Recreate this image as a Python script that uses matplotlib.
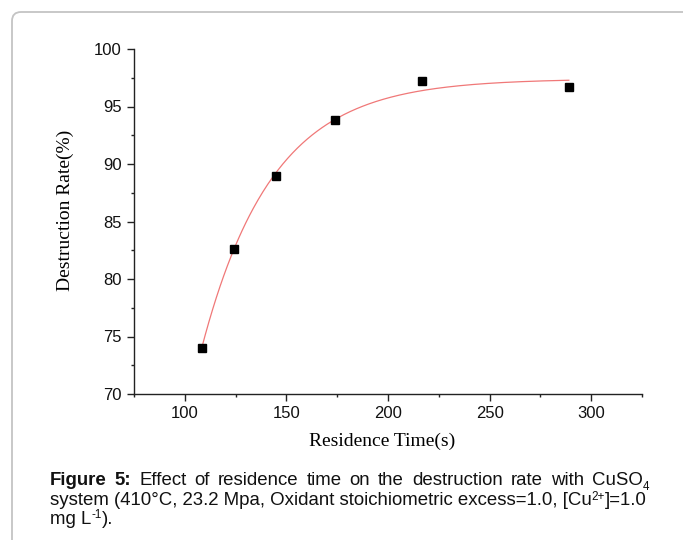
import numpy as np
import matplotlib
matplotlib.use("Agg")
import matplotlib.pyplot as plt
from matplotlib.patches import FancyBboxPatch
from matplotlib.transforms import IdentityTransform
from matplotlib.ticker import MultipleLocator

# data
residence_time = [108.3, 124.0, 145.0, 173.8, 216.8, 289.0]
destruction_rate = [74.0, 82.6, 89.0, 93.8, 97.2, 96.7]

x_ticks = [100, 150, 200, 250, 300]
y_ticks = [70, 75, 80, 85, 90, 95, 100]

# caption, as runs of (text, style): b = bold, n = normal, sub / sup = small
caption_line1 = [[("Figure", "b")], [("5:", "b")], [("Effect", "n")], [("of", "n")],
                 [("residence", "n")], [("time", "n")], [("on", "n")], [("the", "n")],
                 [("destruction", "n")], [("rate", "n")], [("with", "n")],
                 [("CuSO", "n"), ("4", "sub")]]
caption_line2 = [[("system (410°C, 23.2 Mpa, Oxidant stoichiometric excess=1.0, [Cu", "n"),
                  ("2+", "sup"), ("]=1.0", "n")]]
caption_line3 = [[("mg L", "n"), ("-1", "sup"), (").", "n")]]


def exp_fit(x, y):
    # y = y0 - a*exp(-x/t), grid over t, linear least squares for y0, a
    x = np.asarray(x)
    y = np.asarray(y)
    best = None
    for t in np.linspace(5, 300, 3000):
        M = np.column_stack([np.ones_like(x), -np.exp(-x / t)])
        coef, res, _, _ = np.linalg.lstsq(M, y, rcond=None)
        err = np.sum((M @ coef - y) ** 2)
        if best is None or err < best[0]:
            best = (err, coef[0], coef[1], t)
    return best[1:]


fig = plt.figure(figsize=(6.83, 5.40), dpi=100)

# light rounded frame around the figure
frame = FancyBboxPatch((12, -40), 720, 568, boxstyle="round,pad=0,rounding_size=9",
                       transform=IdentityTransform(), facecolor="none",
                       edgecolor="#c4c4c4", lw=1.3)
fig.patches.append(frame)

ax = fig.add_axes([134 / 683, 1 - 394 / 540, 508 / 683, 345 / 540])

y0, a, t = exp_fit(residence_time, destruction_rate)
xs = np.linspace(min(residence_time), max(residence_time), 300)
ax.plot(xs, y0 - a * np.exp(-xs / t), color="#f07878", lw=0.9)
ax.plot(residence_time, destruction_rate, "s", color="black", ms=6)

ax.set_xlim(75, 325)
ax.set_ylim(70, 100)
ax.set_xticks(x_ticks)
ax.set_yticks(y_ticks)
ax.xaxis.set_minor_locator(MultipleLocator(25))
ax.yaxis.set_minor_locator(MultipleLocator(2.5))
for s in ["top", "right"]:
    ax.spines[s].set_visible(False)
for s in ["left", "bottom"]:
    ax.spines[s].set_linewidth(1.0)
    ax.spines[s].set_color("#222222")
ax.tick_params(which="major", length=5, width=1.0, color="#222222", pad=4)
ax.tick_params(which="minor", length=2.5, width=1.0, color="#222222")
for lab in ax.get_xticklabels() + ax.get_yticklabels():
    lab.set_fontfamily("Liberation Sans")
    lab.set_fontsize(12)
    lab.set_color("#111111")

ax.set_xlabel("Residence Time(s)", family="Liberation Serif", fontsize=14, va="center")
ax.set_ylabel("Destruction Rate(%)", family="Liberation Serif", fontsize=14, va="center")
ax.xaxis.set_label_coords((382 - 134) / 508, (394 - 441) / 345)
ax.yaxis.set_label_coords((65 - 134) / 508, (394 - 210) / 345)

# caption, justified like the source page
renderer = fig.canvas.get_renderer()
left, right = 50, 649


def make_runs(words, ybase, size):
    # create text objects for every run, return them with their widths per word
    out = []
    for word in words:
        items = []
        for s, style in word:
            fs = size * 0.62 if style in ("sub", "sup") else size
            dy = {"sub": 4.5, "sup": -5.5}.get(style, 0)
            tx = fig.text(0, 1 - (ybase + dy) / 540, s, family="Liberation Sans", fontsize=fs,
                          weight="bold" if style == "b" else "normal", va="baseline",
                          color="#111111")
            items.append((tx, tx.get_window_extent(renderer).width))
        out.append(items)
    return out


def place(words, ybase, size, justify=True):
    runs = make_runs(words, ybase, size)
    widths = [sum(w for _, w in items) for items in runs]
    gap = size * 100 / 72 * 0.278
    if justify and len(words) > 1:
        gap = (right - left - sum(widths)) / (len(words) - 1)
    x = left
    for items in runs:
        for tx, w in items:
            tx.set_x(x / 683)
            x += w
        x += gap
    return x


# size the caption so that line 2 fills the text width
probe = make_runs(caption_line2, 0, 12)
line2_w = sum(w for items in probe for _, w in items)
for items in probe:
    for tx, _ in items:
        tx.remove()
cap_size = 12 * (right - left) / line2_w

place(caption_line1, 485, cap_size)
place(caption_line2, 505, cap_size, justify=False)
place(caption_line3, 524, cap_size, justify=False)

fig.savefig("out.png", dpi=100)
